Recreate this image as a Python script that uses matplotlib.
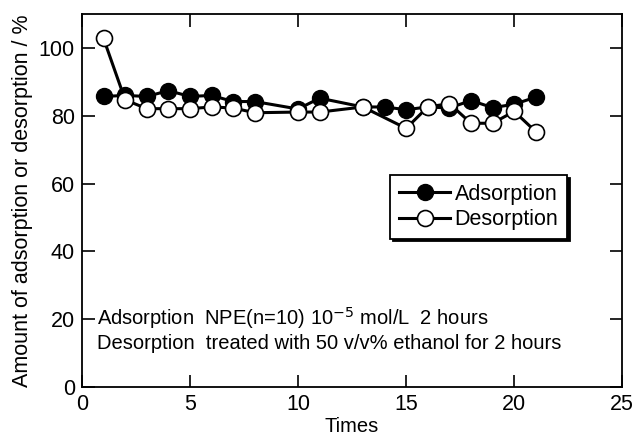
import matplotlib
matplotlib.use('Agg')
import matplotlib.pyplot as plt

plt.rcParams['font.family'] = ['Liberation Sans', 'DejaVu Sans']

# data
ads_x = [1, 2, 3, 4, 5, 6, 7, 8, 10, 11, 13, 14, 15, 16, 17, 18, 19, 20, 21]
ads_y = [85.7, 86.0, 85.7, 87.4, 85.7, 86.0, 84.2, 84.2, 82.0, 85.2, 82.6, 82.6, 81.8, 82.6, 82.3, 84.5, 82.4, 83.4, 85.5]

des_x = [1, 2, 3, 4, 5, 6, 7, 8, 10, 11, 13, 15, 16, 17, 18, 19, 20, 21]
des_y = [102.8, 84.7, 82.1, 82.1, 82.1, 82.6, 82.3, 80.9, 81.1, 81.1, 82.6, 76.3, 82.6, 83.6, 77.8, 77.8, 81.3, 75.3]

x_ticks = [0, 5, 10, 15, 20, 25]
y_ticks = [0, 20, 40, 60, 80, 100]

note1 = 'Adsorption  NPE(n=10) 10$^{-5}$ mol/L  2 hours'
note2 = 'Desorption  treated with 50 v/v% ethanol for 2 hours'

fig = plt.figure(figsize=(6.35, 4.38), dpi=100)
ax = fig.add_axes([0.129, 0.116, 0.851, 0.852])

ax.plot(ads_x, ads_y, '-o', color='black', lw=2.2, ms=11.5,
        mfc='black', mec='black', label='Adsorption')
ax.plot(des_x, des_y, '-o', color='black', lw=2.2, ms=11.5,
        mfc='white', mec='black', mew=1.2, label='Desorption')

ax.set_xlim(0, 25)
ax.set_ylim(0, 110)
ax.set_xticks(x_ticks)
ax.set_yticks(y_ticks)
ax.tick_params(direction='in', length=9, width=1.2, labelsize=15.5,
               top=True, right=True, pad=5)
for s in ax.spines.values():
    s.set_linewidth(1.3)

ax.set_xlabel('Times', fontsize=14.5, labelpad=1)
ax.set_ylabel('Amount of adsorption or desorption / %', fontsize=15.5, labelpad=4)

leg = ax.legend(loc='upper left', bbox_to_anchor=(14.26 / 25, 62.5 / 110),
                fontsize=15.5, frameon=True, fancybox=False,
                shadow={'color': 'black', 'alpha': 1},
                edgecolor='black', handlelength=2.4, borderpad=0.4,
                labelspacing=0.2, handletextpad=0.2, borderaxespad=0)
leg.get_frame().set_linewidth(1.3)

ax.text(0.7, 20.5, note1, fontsize=14.5, va='center')
ax.text(0.7, 13.0, note2, fontsize=14.5, va='center')

fig.savefig('out.png', dpi=100)
